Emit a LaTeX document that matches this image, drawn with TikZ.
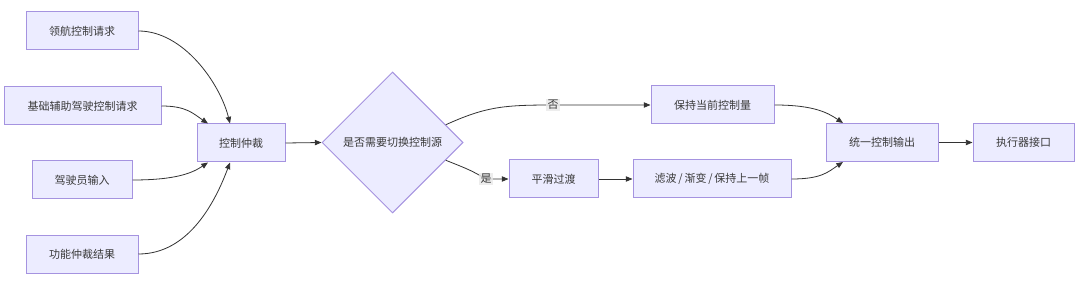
\documentclass[tikz,border=0pt]{standalone}
\usepackage{fontspec}
\setmainfont{Noto Sans CJK SC}
\usetikzlibrary{shapes.geometric,arrows.meta,calc}
\definecolor{nodefill}{HTML}{ECECFF}
\definecolor{nodeline}{HTML}{A593E0}
\definecolor{edgecol}{HTML}{333333}
\definecolor{textcol}{HTML}{3A3A3A}
\definecolor{lblbg}{HTML}{E8E8E8}
\begin{document}
\begin{tikzpicture}[x=0.75pt,y=-0.75pt,
  box/.style={draw=nodeline,fill=nodefill,line width=0.75pt,minimum height=28.5pt,inner sep=0pt,font=\fontsize{8.25pt}{10pt}\selectfont,text=textcol},
  dia/.style={diamond,draw=nodeline,fill=nodefill,line width=0.75pt,minimum width=105.75pt,minimum height=105.75pt,inner sep=0pt,aspect=1,font=\fontsize{8.25pt}{10pt}\selectfont,text=textcol},
  conn/.style={draw=edgecol,line width=0.6pt,-{Triangle[length=5pt,width=4pt]}},
  lbl/.style={fill=lblbg,fill opacity=0.8,text opacity=1,inner sep=1pt,font=\fontsize{8.25pt}{10pt}\selectfont,text=textcol}]
\useasboundingbox (0,0) rectangle (1080,281);
\node[box,minimum width=84pt] (n1) at (82,31) {领航控制请求};
\node[box,minimum width=117.75pt] (n2) at (82.5,106) {基础辅助驾驶控制请求};
\node[box,minimum width=75pt] (n3) at (82,180) {驾驶员输入};
\node[box,minimum width=84pt] (n4) at (82,254) {功能仲裁结果};
\node[box,minimum width=66pt] (arb) at (241,143) {控制仲裁};
\node[dia] (d) at (392.5,142.5) {是否需要切换控制源};
\node[box,minimum width=92.25pt] (keep) at (712.5,105) {保持当前控制量};
\node[box,minimum width=66.75pt] (smooth) at (553.5,179) {平滑过渡};
\node[box,minimum width=118.5pt] (filt) at (712,179) {滤波\,/\,渐变\,/\,保持上一帧};
\node[box,minimum width=84pt] (out) at (882,142.5) {统一控制输出};
\node[box,minimum width=75.75pt] (act) at (1023.5,142.5) {执行器接口};
\coordinate (arbTL) at ($(arb.north)+(-11,0)$);
\coordinate (arbTLL) at ($(arb.north)+(-33,0)$);
\coordinate (arbBL) at ($(arb.south)+(-11,0)$);
\coordinate (arbBLL) at ($(arb.south)+(-33,0)$);
\coordinate (outT) at ($(out.north)+(-39,0)$);
\coordinate (outB) at ($(out.south)+(-39,0)$);
\coordinate (dNE) at ($(d.north east)!0.5!(d.east)$);
\coordinate (dSE) at ($(d.south east)!0.5!(d.east)$);
\draw[conn] (n1.east) .. controls +(45,0) and +(-10,-40) .. (arbTL);
\draw[conn] (n2.east) .. controls +(25,0) and +(-15,-10) .. (arbTLL);
\draw[conn] (n3.east) .. controls +(45,0) and +(-15,10) .. (arbBLL);
\draw[conn] (n4.east) .. controls +(50,0) and +(-15,40) .. (arbBL);
\draw[conn] (arb.east) -- (d.west);
\draw[conn] (dNE) .. controls +(40,-18) and +(-50,0) .. (553,105) node[lbl] (lno) {否} -- (keep.west);
\draw[conn] (dSE) .. controls +(25,10) .. (486,179) node[lbl] (lyes) {是} -- (smooth.west);
\draw[conn] (smooth.east) -- (filt.west);
\draw[conn] (keep.east) .. controls +(40,0) and +(-15,-10) .. (outT);
\draw[conn] (filt.east) .. controls +(30,0) and +(-15,10) .. (outB);
\draw[conn] (out.east) -- (act.west);
\end{tikzpicture}
\end{document}
